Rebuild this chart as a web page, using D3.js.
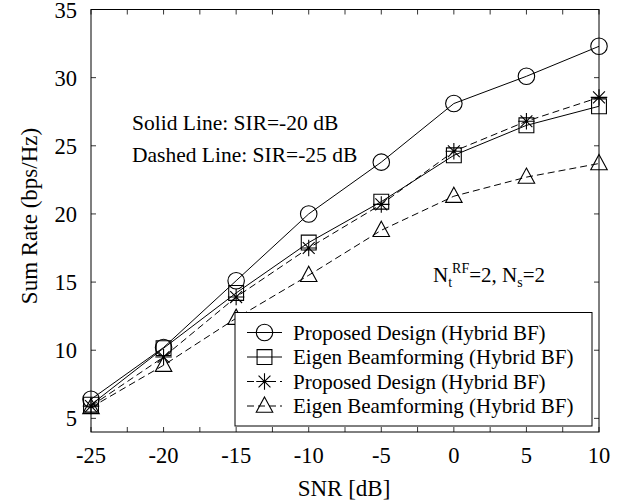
<!DOCTYPE html>
<html>
<head>
<meta charset="utf-8">
<script src="https://cdn.jsdelivr.net/npm/d3@7"></script>
<style>
  body { margin: 0; background: #fff; }
  text { font-family: "Liberation Serif", "Times New Roman", serif; fill: #000; }
</style>
</head>
<body>
<div id="chart"></div>
<script>
// SNR points (dB)
const snr = [-25, -20, -15, -10, -5, 0, 5, 10];

// sum rates
const proposedSolid = [6.4, 10.2, 15.1, 20.0, 23.8, 28.1, 30.1, 32.3];
const eigenSolid = [6.0, 10.15, 14.2, 17.9, 20.9, 24.3, 26.5, 27.9];
const proposedDashed = [5.9, 9.5, 13.9, 17.5, 20.7, 24.6, 26.8, 28.55];
const eigenDashed = [5.8, 8.9, 12.35, 15.5, 18.8, 21.3, 22.7, 23.7];

const seriesNames = [
    "Proposed Design (Hybrid BF)",
    "Eigen Beamforming (Hybrid BF)",
    "Proposed Design (Hybrid BF)",
    "Eigen Beamforming (Hybrid BF)"
];

const xTicks = [-25, -20, -15, -10, -5, 0, 5, 10];
const xMinorTicks = d3.range(-25, 10.01, 2.5);
const yTicks = [5, 10, 15, 20, 25, 30, 35];

const series = [
    { name: seriesNames[0], values: proposedSolid, marker: "circle", dashed: false },
    { name: seriesNames[1], values: eigenSolid, marker: "square", dashed: false },
    { name: seriesNames[2], values: proposedDashed, marker: "star", dashed: true },
    { name: seriesNames[3], values: eigenDashed, marker: "triangle", dashed: true }
];

const margin = { top: 9.5, right: 29, bottom: 71, left: 91 };
const totalW = 628, totalH = 503;
const width = totalW - margin.left - margin.right;
const height = totalH - margin.top - margin.bottom;

const svg = d3.select("#chart").append("svg")
    .attr("width", totalW)
    .attr("height", totalH);

const g = svg.append("g")
    .attr("transform", `translate(${margin.left},${margin.top})`);

const x = d3.scaleLinear().domain([-25, 10]).range([0, width]);
const y = d3.scaleLinear().domain([4, 35]).range([height, 0]);

// marker shapes
function markerPath(type, s) {
    if (type === "circle") {
        const r = s * 0.5;
        return `M${-r},0A${r},${r} 0 1,0 ${r},0A${r},${r} 0 1,0 ${-r},0Z`;
    }
    if (type === "square") {
        const h = s * 0.45;
        return `M${-h},${-h}H${h}V${h}H${-h}Z`;
    }
    if (type === "triangle") {
        const h = s * 0.5;
        return `M0,${-h * 1.1}L${h},${h * 0.75}L${-h},${h * 0.75}Z`;
    }
    // asterisk: plus and cross
    const a = s * 0.5, d = a * 0.72;
    return `M0,${-a}V${a}M${-a},0H${a}M${-d},${-d}L${d},${d}M${-d},${d}L${d},${-d}`;
}

const markerSize = 16.5;

// ticks (inward, on all sides)
const tickLen = 5;
const tickG = g.append("g").attr("stroke", "#000").attr("stroke-width", 0.8);
xMinorTicks.forEach(t => {
    tickG.append("line").attr("x1", x(t)).attr("x2", x(t)).attr("y1", height).attr("y2", height - tickLen);
    tickG.append("line").attr("x1", x(t)).attr("x2", x(t)).attr("y1", 0).attr("y2", tickLen);
});
yTicks.forEach(t => {
    tickG.append("line").attr("x1", 0).attr("x2", tickLen).attr("y1", y(t)).attr("y2", y(t));
    tickG.append("line").attr("x1", width).attr("x2", width - tickLen).attr("y1", y(t)).attr("y2", y(t));
});

// tick labels
g.selectAll(".xlabel").data(xTicks).enter().append("text")
    .attr("class", "xlabel")
    .attr("x", d => x(d))
    .attr("y", height + 31)
    .attr("text-anchor", "middle")
    .style("font-size", "22.5px")
    .text(d => d);

g.selectAll(".ylabel").data(yTicks).enter().append("text")
    .attr("class", "ylabel")
    .attr("x", -14)
    .attr("y", d => y(d) + 8)
    .attr("text-anchor", "end")
    .style("font-size", "22.5px")
    .text(d => d);

// lines
const line = d3.line()
    .x((d, i) => x(snr[i]))
    .y(d => y(d));

series.forEach(s => {
    g.append("path")
        .datum(s.values)
        .attr("d", line)
        .attr("fill", "none")
        .attr("stroke", "#000")
        .attr("stroke-width", 1)
        .attr("stroke-dasharray", s.dashed ? "7,4" : null);

    g.selectAll(null).data(s.values).enter().append("path")
        .attr("transform", (d, i) => `translate(${x(snr[i])},${y(d)})`)
        .attr("d", markerPath(s.marker, markerSize))
        .attr("fill", "none")
        .attr("stroke", "#000")
        .attr("stroke-width", 1.1);
});

// frame
g.append("rect")
    .attr("width", width)
    .attr("height", height)
    .attr("fill", "none")
    .attr("stroke", "#000")
    .attr("stroke-width", 1);

// annotations
g.append("text")
    .attr("x", 41).attr("y", 120)
    .style("font-size", "21.5px")
    .text("Solid Line: SIR=-20 dB");
g.append("text")
    .attr("x", 41).attr("y", 152)
    .style("font-size", "21.5px")
    .text("Dashed Line: SIR=-25 dB");

const nt = g.append("text")
    .attr("x", 342).attr("y", 272)
    .style("font-size", "21px");
nt.append("tspan").text("N");
nt.append("tspan").attr("dy", 5).style("font-size", "14px").text("t");
nt.append("tspan").attr("dy", -14).style("font-size", "14px").text("RF");
nt.append("tspan").attr("dy", 9).text("=2, N");
nt.append("tspan").attr("dy", 5).style("font-size", "14px").text("s");
nt.append("tspan").attr("dy", -5).text("=2");

// legend
const legend = g.append("g").attr("transform", "translate(144,303)");
legend.append("rect")
    .attr("width", 357)
    .attr("height", 113.5)
    .attr("fill", "#fff")
    .attr("stroke", "#000")
    .attr("stroke-width", 1);

series.forEach((s, i) => {
    const row = legend.append("g").attr("transform", `translate(0,${20 + i * 24.5})`);
    row.append("line")
        .attr("x1", 12).attr("x2", 47)
        .attr("stroke", "#000")
        .attr("stroke-width", 1)
        .attr("stroke-dasharray", s.dashed ? "7,4" : null);
    row.append("path")
        .attr("transform", "translate(29.5,0)")
        .attr("d", markerPath(s.marker, markerSize))
        .attr("fill", "none")
        .attr("stroke", "#000")
        .attr("stroke-width", 1.1);
    row.append("text")
        .attr("x", 58).attr("y", 7)
        .style("font-size", "21px")
        .text(s.name);
});

// axis titles
svg.append("text")
    .attr("x", 344)
    .attr("y", 496)
    .attr("text-anchor", "middle")
    .style("font-size", "23px")
    .text("SNR [dB]");

svg.append("text")
    .attr("transform", "translate(37,216) rotate(-90)")
    .attr("text-anchor", "middle")
    .style("font-size", "23px")
    .text("Sum Rate (bps/Hz)");
</script>
</body>
</html>
